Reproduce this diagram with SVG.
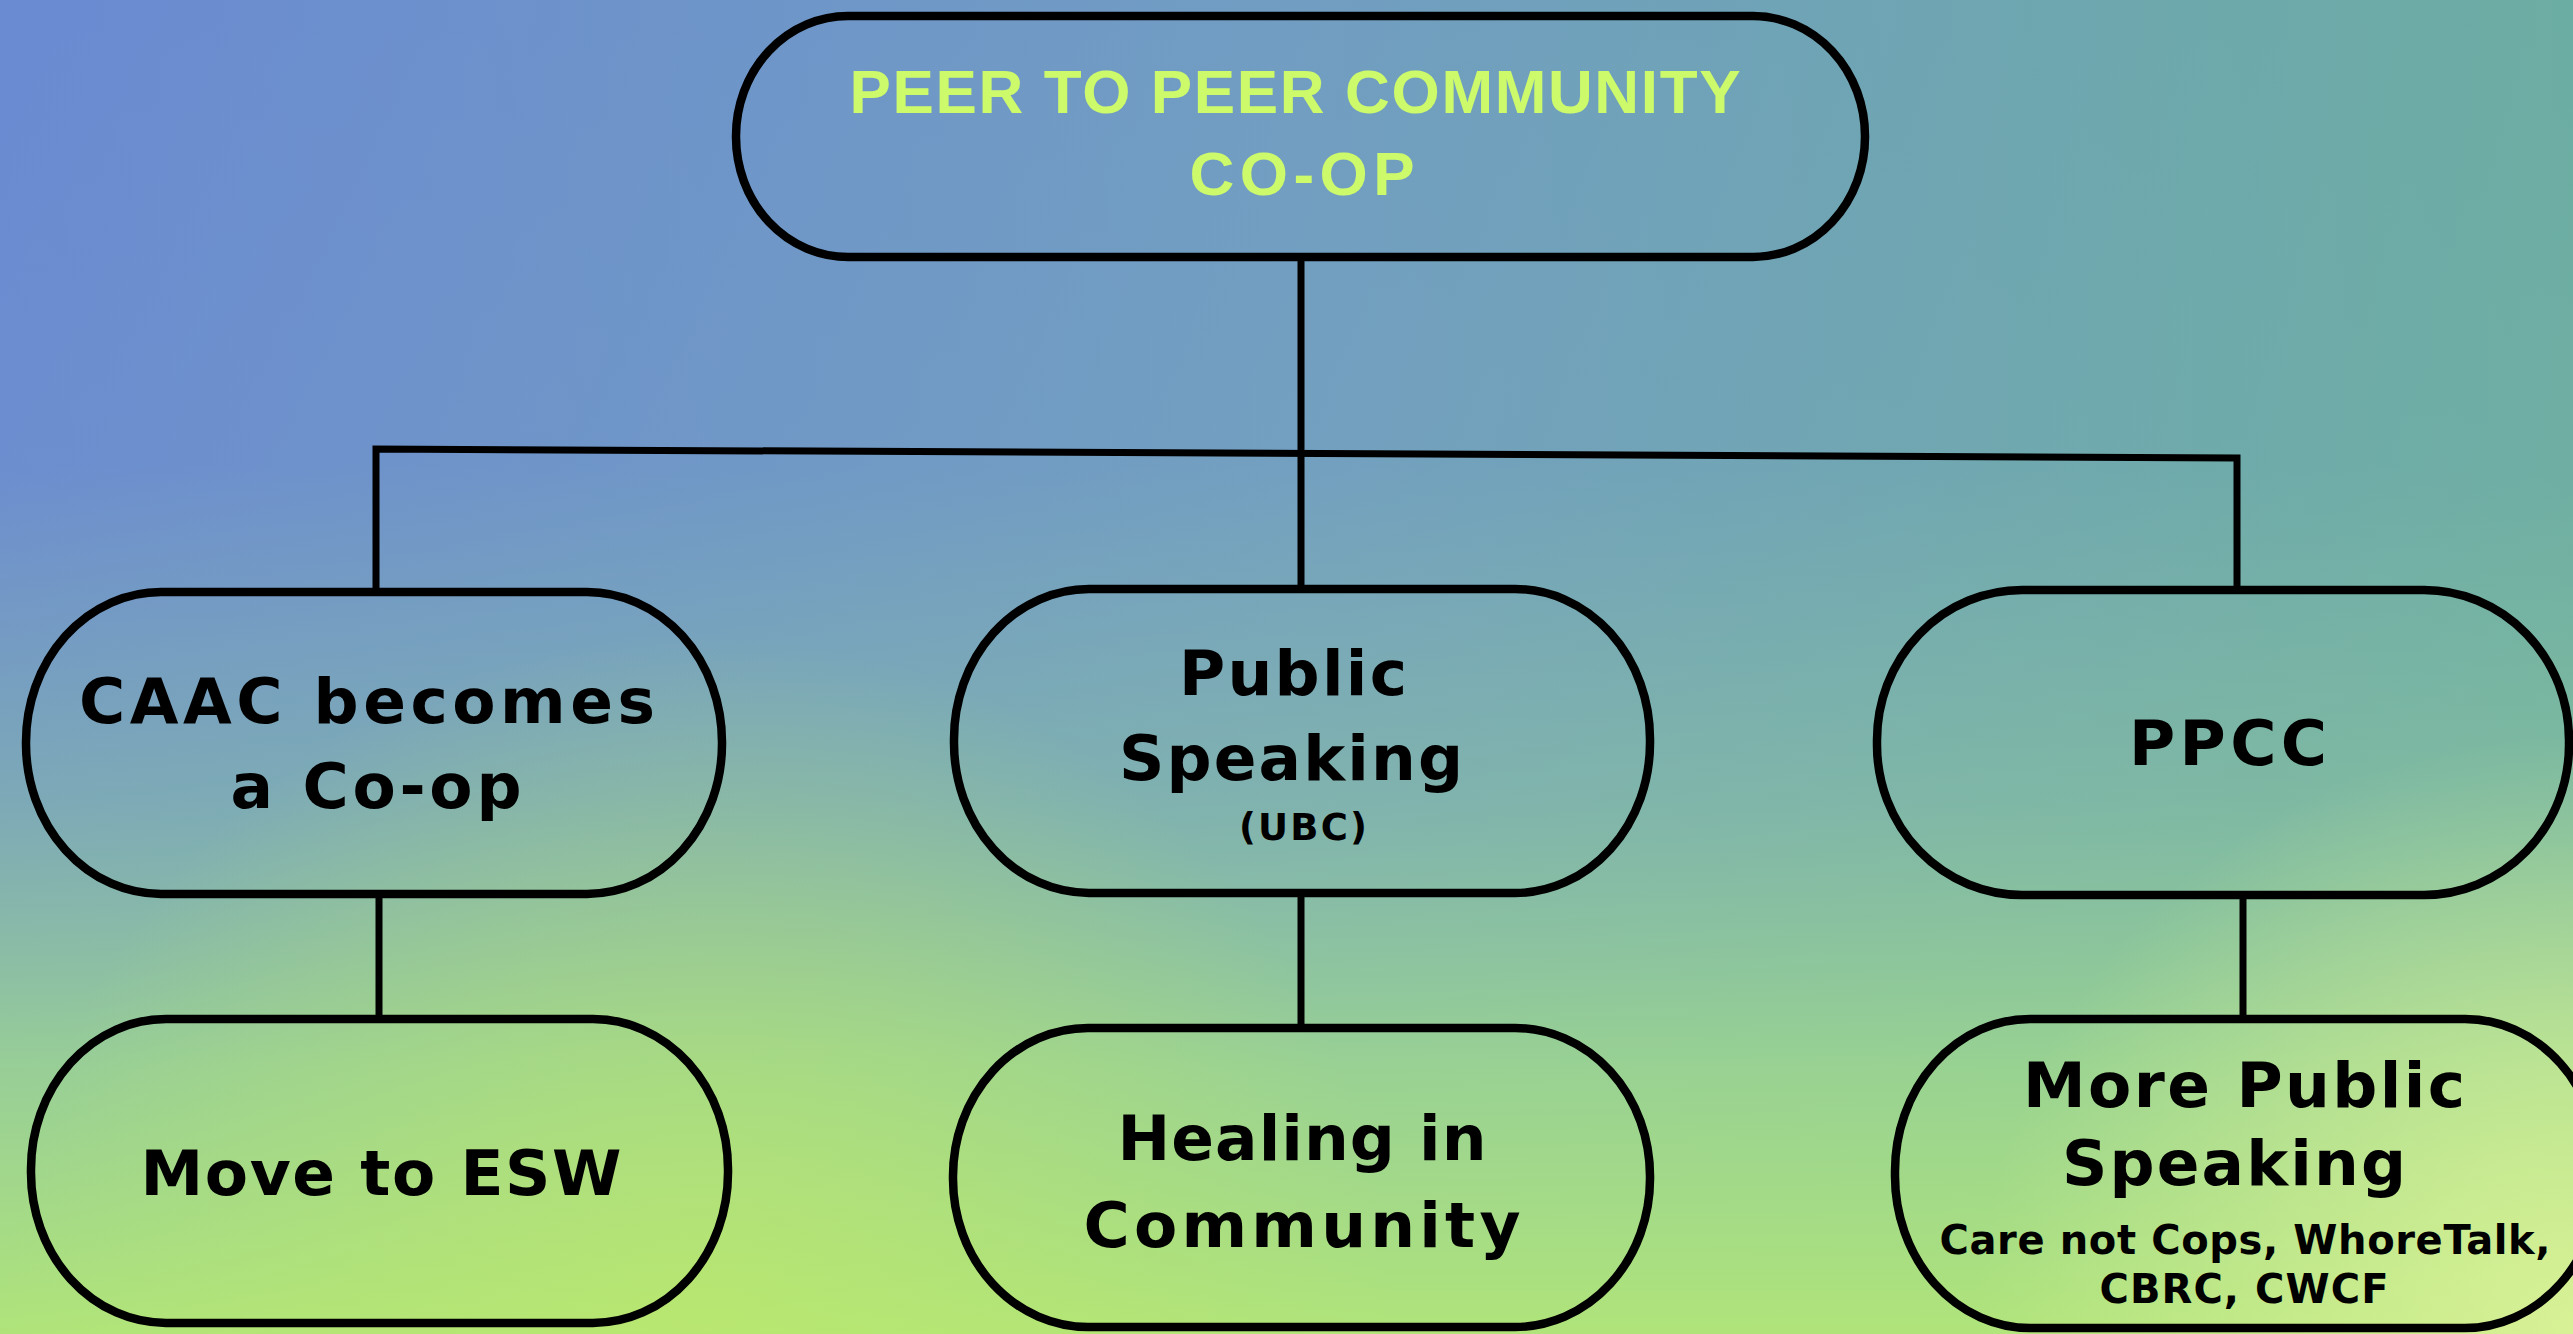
<svg xmlns="http://www.w3.org/2000/svg" width="2573" height="1334" viewBox="0 0 2573 1334">
<defs>
<linearGradient id="bgH" x1="0" y1="0" x2="1" y2="0">
<stop offset="0" stop-color="#6a8ad2"/>
<stop offset="0.5" stop-color="#719dc2"/>
<stop offset="1" stop-color="#6cada3"/>
</linearGradient>
<linearGradient id="bgV" x1="0" y1="0" x2="0" y2="1">
<stop offset="0" stop-color="#8fc6a0" stop-opacity="0"/>
<stop offset="0.35" stop-color="#8fc6a0" stop-opacity="0.06"/>
<stop offset="0.6" stop-color="#90c89c" stop-opacity="0.5"/>
<stop offset="0.8" stop-color="#a0da8c" stop-opacity="0.85"/>
<stop offset="1" stop-color="#b0e47a" stop-opacity="1"/>
</linearGradient>
<radialGradient id="bgR" cx="2573" cy="1334" r="600" gradientUnits="userSpaceOnUse">
<stop offset="0" stop-color="#d8f196" stop-opacity="1"/>
<stop offset="1" stop-color="#d8f196" stop-opacity="0"/>
</radialGradient>
<radialGradient id="bgY" cx="700" cy="1334" r="700" gradientUnits="userSpaceOnUse">
<stop offset="0" stop-color="#bce86c" stop-opacity="0.7"/>
<stop offset="1" stop-color="#bce86c" stop-opacity="0"/>
</radialGradient>
</defs>
<style>
.node{fill:none;stroke:#000;stroke-width:8.5}
.conn{fill:none;stroke:#000;stroke-width:7;stroke-linejoin:miter}
.title{font-family:"Liberation Sans",Arial,sans-serif;font-weight:700;font-size:62px;fill:#cdfa6a;text-anchor:middle}
.lbl{font-family:"DejaVu Sans",Verdana,sans-serif;font-weight:700;font-size:63px;fill:#000;text-anchor:middle}
.sm{font-family:"DejaVu Sans",Verdana,sans-serif;font-weight:700;font-size:40px;fill:#000;text-anchor:middle}
.xs{font-family:"DejaVu Sans",Verdana,sans-serif;font-weight:700;font-size:37px;fill:#000;text-anchor:middle}
</style>
<rect width="2573" height="1334" fill="url(#bgH)"/>
<rect width="2573" height="1334" fill="url(#bgV)"/>
<rect width="2573" height="1334" fill="url(#bgY)"/>
<rect width="2573" height="1334" fill="url(#bgR)"/>

<g id="connectors">
<path class="conn" d="M1301,257 V589"/>
<path class="conn" d="M376,592 V449 L2237,458 V591"/>
<path class="conn" d="M379,894 V1019"/>
<path class="conn" d="M1301,893 V1028"/>
<path class="conn" d="M2243,895 V1019"/>
</g>

<g id="node-root">
<rect class="node" x="736" y="16" width="1129" height="241" rx="112" ry="120"/>
<text class="title" x="1295" y="113" textLength="891" lengthAdjust="spacing">PEER TO PEER COMMUNITY</text>
<text class="title" x="1302" y="195" textLength="225" lengthAdjust="spacing">CO-OP</text>
</g>

<g id="node-caac">
<rect class="node" x="26" y="592" width="696" height="302" rx="135" ry="150"/>
<text class="lbl" x="367" y="723" textLength="576" lengthAdjust="spacing">CAAC becomes</text>
<text class="lbl" x="376" y="808" textLength="291" lengthAdjust="spacing">a Co-op</text>
</g>

<g id="node-public">
<rect class="node" x="954" y="589" width="696" height="304" rx="135" ry="150"/>
<text class="lbl" x="1293" y="695" textLength="228" lengthAdjust="spacing">Public</text>
<text class="lbl" x="1291" y="780" textLength="344" lengthAdjust="spacing">Speaking</text>
<text class="xs" x="1303" y="840" textLength="128" lengthAdjust="spacing">(UBC)</text>
</g>

<g id="node-ppcc">
<rect class="node" x="1877" y="590" width="692" height="305" rx="145" ry="150"/>
<text class="lbl" x="2228" y="765" textLength="198" lengthAdjust="spacing">PPCC</text>
</g>

<g id="node-esw">
<rect class="node" x="31" y="1019" width="697" height="304" rx="135" ry="150"/>
<text class="lbl" x="381" y="1195" textLength="481" lengthAdjust="spacing">Move to ESW</text>
</g>

<g id="node-healing">
<rect class="node" x="953" y="1028" width="697" height="299" rx="135" ry="148"/>
<text class="lbl" x="1302" y="1160" textLength="369" lengthAdjust="spacing">Healing in</text>
<text class="lbl" x="1302" y="1247" textLength="437" lengthAdjust="spacing">Community</text>
</g>

<g id="node-more">
<rect class="node" x="1895" y="1019" width="705" height="309" rx="135" ry="152"/>
<text class="lbl" x="2244" y="1107" textLength="442" lengthAdjust="spacing">More Public</text>
<text class="lbl" x="2234" y="1185" textLength="344" lengthAdjust="spacing">Speaking</text>
<text class="sm" x="2245" y="1254" textLength="611" lengthAdjust="spacing">Care not Cops, WhoreTalk,</text>
<text class="sm" x="2244" y="1303" textLength="289" lengthAdjust="spacing">CBRC, CWCF</text>
</g>
</svg>
